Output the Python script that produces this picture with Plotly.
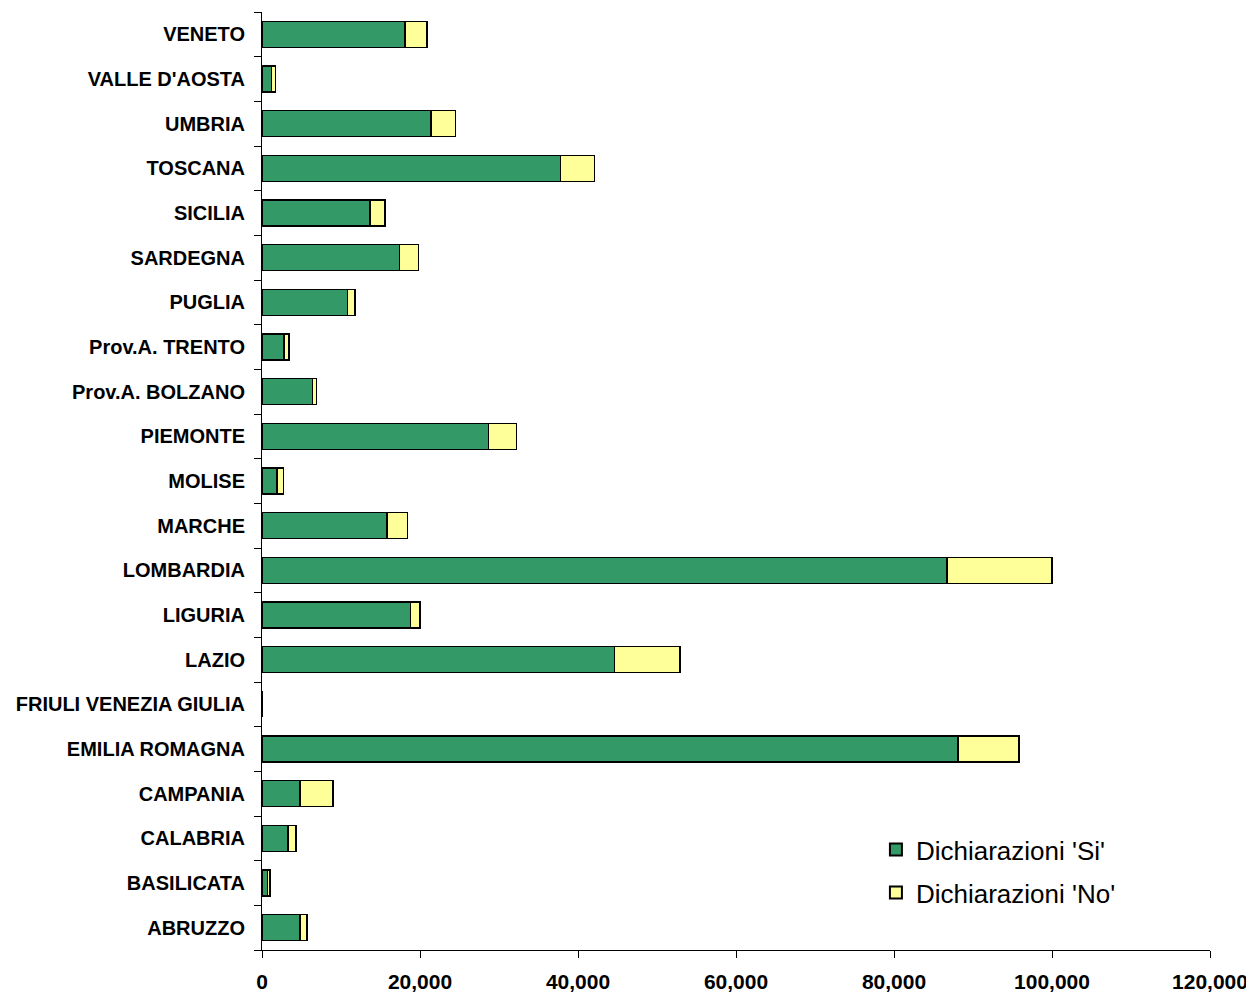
import plotly.graph_objects as go

regions = ["ABRUZZO", "BASILICATA", "CALABRIA", "CAMPANIA", "EMILIA ROMAGNA",
           "FRIULI VENEZIA GIULIA", "LAZIO", "LIGURIA", "LOMBARDIA", "MARCHE",
           "MOLISE", "PIEMONTE", "Prov.A. BOLZANO", "Prov.A. TRENTO", "PUGLIA",
           "SARDEGNA", "SICILIA", "TOSCANA", "UMBRIA", "VALLE D'AOSTA", "VENETO"]
dich_si = [4800, 700, 3300, 4800, 88100, 0, 44600, 18800, 86700, 15800,
           1900, 28700, 6400, 2800, 10800, 17400, 13700, 37800, 21400, 1200, 18100]
dich_no = [900, 300, 1000, 4200, 7700, 0, 8300, 1200, 13300, 2600,
           800, 3500, 500, 600, 1000, 2400, 1900, 4300, 3100, 500, 2800]
x_ticks = [0, 20000, 40000, 60000, 80000, 100000, 120000]
x_labels = ["0", "20,000", "40,000", "60,000", "80,000", "100,000", "120,000"]

fig = go.Figure()
fig.add_trace(go.Bar(y=regions, x=dich_si, orientation="h", name="Dichiarazioni 'Si'",
                     legendgroup="si",
                     marker=dict(color="#339966", line=dict(color="black", width=1.5))))
fig.add_trace(go.Bar(y=regions, x=dich_no, orientation="h", name="Dichiarazioni 'No'",
                     legendgroup="no",
                     marker=dict(color="#FFFF99", line=dict(color="black", width=1.5))))

fig.update_layout(
    width=1246, height=989,
    margin=dict(l=254, r=44, t=4, b=45),
    barmode="stack", bargap=0.42,
    plot_bgcolor="white", paper_bgcolor="white",
    font=dict(family="Arial, Liberation Sans", color="black"),
    showlegend=True,
    legend=dict(x=0.6476, y=0.132, xanchor="left", yanchor="top",
                traceorder="grouped", tracegroupgap=6,
                font=dict(size=26, family="Arial, Liberation Sans"),
                bgcolor="rgba(0,0,0,0)", itemsizing="constant"),
    xaxis=dict(range=[0, 120000], tickvals=x_ticks, ticktext=x_labels,
               showgrid=False, zeroline=False, showline=True, linecolor="black", linewidth=1,
               ticks="outside", ticklen=7, tickcolor="black", ticklabelstandoff=6,
               tickfont=dict(size=21, family="Arial, Liberation Sans", weight="bold")),
    yaxis=dict(categoryorder="array", categoryarray=regions,
               showgrid=False, zeroline=False, showline=True, linecolor="black", linewidth=1,
               ticks="outside", ticklen=7, tickcolor="black", tickson="boundaries",
               ticklabelstandoff=12,
               tickfont=dict(size=20, family="Arial, Liberation Sans", weight="bold")),
)

fig.write_html("out.html")
